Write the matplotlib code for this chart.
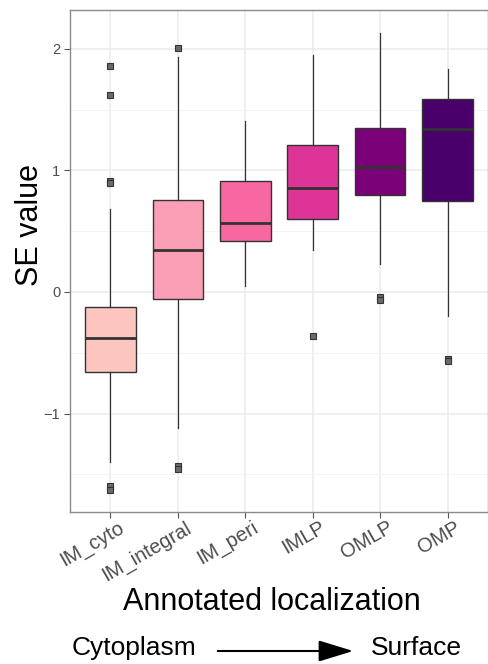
import numpy as np
import matplotlib
matplotlib.use("Agg")
from matplotlib import pyplot as plt
from matplotlib import transforms

plt.rcParams['font.family'] = ['Liberation Sans', 'DejaVu Sans']

# Box statistics
categories = ["IM_cyto", "IM_integral", "IM_peri", "IMLP", "OMLP", "OMP"]
medians = [-0.375, 0.345, 0.565, 0.855, 1.03, 1.34]
q1 = [-0.66, -0.06, 0.42, 0.60, 0.80, 0.75]
q3 = [-0.12, 0.755, 0.91, 1.21, 1.35, 1.59]
whisk_lo = [-1.40, -1.12, 0.05, 0.345, 0.23, -0.20]
whisk_hi = [0.68, 1.93, 1.41, 1.95, 2.13, 1.835]
outliers = [
    [1.86, 1.62, 0.91, 0.90, -1.60, -1.63],
    [2.01, -1.43, -1.46],
    [],
    [-0.36],
    [-0.04, -0.065],
    [-0.55, -0.57],
]
colors = ["#FCC5C0", "#FA9FB5", "#F768A1", "#DD3497", "#7A0177", "#49006A"]

stats = []
for i, name in enumerate(categories):
    stats.append({"med": medians[i], "q1": q1[i], "q3": q3[i],
                  "whislo": whisk_lo[i], "whishi": whisk_hi[i],
                  "fliers": outliers[i], "label": name})

fig = plt.figure(figsize=(4.88, 6.64), dpi=100)
ax = fig.add_axes([70/488, (664-512)/664, 418/488, 502/664])

positions = np.arange(1, len(categories) + 1)
bp = ax.bxp(stats, positions=positions, widths=0.75, patch_artist=True,
            showcaps=False,
            boxprops=dict(edgecolor="#333333", linewidth=1.0),
            medianprops=dict(color="#333333", linewidth=2.0),
            whiskerprops=dict(color="#333333", linewidth=0.9),
            flierprops=dict(marker="s", markersize=3.8, markerfacecolor="#6a6a6a",
                            markeredgecolor="#333333", markeredgewidth=0.8, linestyle="none"))
for patch, c in zip(bp["boxes"], colors):
    patch.set_facecolor(c)

ax.set_xlim(0.4, 6.6)
ax.set_ylim(-1.81, 2.32)
ax.set_yticks([-1, 0, 1, 2])
ax.set_yticklabels(["\u22121", "0", "1", "2"])
ax.set_yticks([-1.5, -0.5, 0.5, 1.5], minor=True)
ax.set_xticks(positions)
ax.set_xticklabels([])

# rotated category labels, nudged like ggplot's angle=30 / hjust=1
shift = transforms.ScaledTranslation(7/100, -6/100, fig.dpi_scale_trans)
for p, name in zip(positions, categories):
    ax.text(p, 0, name, transform=ax.get_xaxis_transform() + shift,
            rotation=30, ha="right", va="top", rotation_mode="anchor",
            fontsize=14.5, color="#4D4D4D")

ax.grid(True, which="major", color="#EBEBEB", linewidth=1.1, zorder=0)
ax.grid(True, which="minor", axis="y", color="#F3F3F3", linewidth=0.6, zorder=0)
ax.set_axisbelow(True)
ax.tick_params(axis="y", which="minor", length=0)
ax.tick_params(axis="both", which="major", length=4, color="#555555", width=0.8)
ax.tick_params(axis="y", labelsize=10.5, labelcolor="#4D4D4D", pad=3)
for s in ax.spines.values():
    s.set_color("#8a8a8a")
    s.set_linewidth(1.0)

fig.text(30/488, 1 - 225/664, "SE value", rotation=90, ha="center", va="center", fontsize=22)
fig.text(272/488, 1 - 602/664, "Annotated localization", ha="center", va="center", fontsize=22)
fig.text(72/488, 1 - 648/664, "Cytoplasm", ha="left", va="center", fontsize=19)
fig.text(462/488, 1 - 648/664, "Surface", ha="right", va="center", fontsize=19)
fig.patches.append(matplotlib.patches.FancyArrowPatch(
    (215/488, 1 - 651/664), (356/488, 1 - 651/664), transform=fig.transFigure,
    arrowstyle="-|>,head_length=1.8,head_width=0.55", mutation_scale=12,
    color="black", linewidth=1.5))

fig.savefig("out.png", dpi=100)
